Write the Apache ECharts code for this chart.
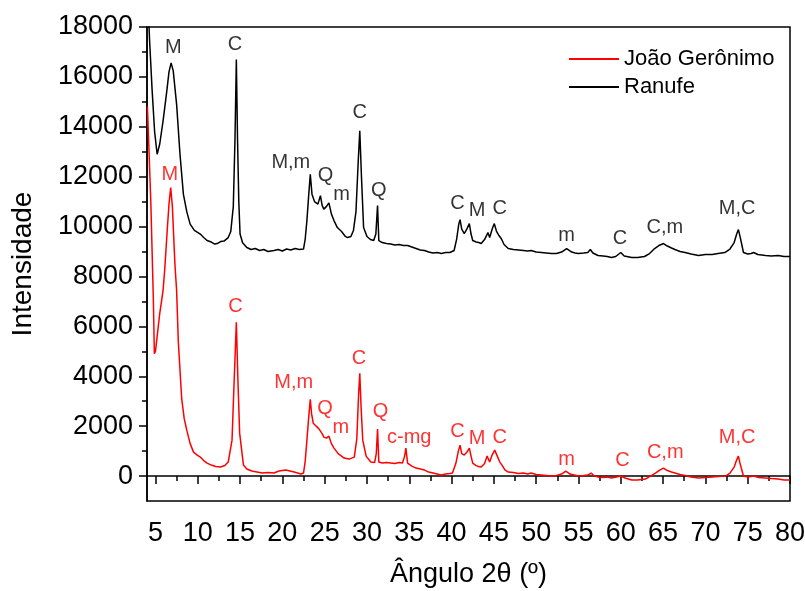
<!DOCTYPE html>
<html lang="pt">
<head>
    <meta charset="UTF-8">
    <title>DRX</title>
    <style>
        body,html{
            height: 100%;
            width: 100%;
            margin: 0;
            background: #fff;
        }
    </style>
</head>
<body>

<div id="main" style="height: 591px; width:805px;"></div>
<script src="https://cdn.jsdelivr.net/npm/echarts@6/dist/echarts.min.js"></script>
<script>
    // ângulo 2θ / intensidade
    var ranufe = [
        [4.15,18800],[4.3,17500],[4.6,15500],[4.9,13800],[5.2,12900],[5.5,13300],[5.9,14240],[6.3,15320],
        [6.6,16200],[6.85,16560],[7.1,16240],[7.5,14900],[7.9,12900],[8.3,11300],[8.7,10600],[9.1,10100],
        [9.6,9850],[10.3,9700],[10.7,9560],[11.1,9440],[11.6,9380],[12.0,9300],[12.3,9320],[12.7,9400],
        [13.1,9420],[13.6,9560],[13.9,9800],[14.2,10800],[14.4,13500],[14.56,16700],[14.7,13500],[14.85,11000],
        [15.0,9700],[15.3,9350],[15.8,9160],[16.3,9080],[16.8,9120],[17.3,9040],[17.8,9080],[18.3,9000],
        [19.0,9040],[19.5,9080],[20.0,9020],[20.5,9100],[21.0,9060],[21.5,9120],[22.0,9080],[22.5,9100],
        [22.7,9500],[22.9,10240],[23.1,11200],[23.3,12100],[23.5,11300],[23.8,11000],[24.2,10900],[24.5,11240],
        [24.7,10850],[24.9,10700],[25.2,10800],[25.5,10950],[25.8,10500],[26.1,10240],[26.5,9960],[27.0,9800],
        [27.4,9620],[27.7,9560],[28.1,9600],[28.4,9840],[28.7,10600],[28.95,12500],[29.15,13840],[29.35,12000],
        [29.6,9960],[30.0,9600],[30.4,9480],[30.8,9440],[31.05,9700],[31.25,10840],[31.4,9440],[31.8,9360],
        [32.3,9320],[32.8,9300],[33.3,9260],[33.8,9280],[34.3,9240],[34.8,9240],[35.3,9180],[35.8,9120],
        [36.3,9060],[36.8,9040],[37.3,8980],[37.8,8940],[38.3,8960],[38.8,8920],[39.3,8960],[39.8,8960],
        [40.3,9040],[40.6,9500],[40.85,10100],[41.0,10280],[41.2,9900],[41.5,9720],[41.8,9900],[42.1,10120],
        [42.3,9700],[42.5,9440],[42.9,9380],[43.2,9360],[43.5,9320],[43.9,9480],[44.3,9760],[44.5,9560],
        [44.8,9900],[45.05,10120],[45.3,9820],[45.6,9640],[45.9,9500],[46.2,9280],[46.7,9120],[47.3,9080],
        [47.9,9060],[48.5,9040],[49.0,9020],[49.4,9040],[50.0,8980],[50.6,8960],[51.2,8940],[51.8,8920],
        [52.4,8920],[53.0,8980],[53.6,9120],[54.2,8980],[54.6,8940],[55.0,8920],[55.6,8940],[56.1,8960],
        [56.4,9080],[56.7,8940],[57.3,8840],[57.9,8820],[58.4,8800],[58.9,8760],[59.4,8800],[60.0,8960],
        [60.4,8820],[61.3,8760],[62.0,8760],[62.8,8800],[63.4,8920],[64.0,9120],[64.5,9240],[65.05,9320],
        [65.5,9220],[66.0,9140],[66.4,9080],[67.0,9000],[67.6,8960],[68.3,8900],[69.2,8840],[70.0,8880],
        [70.8,8880],[71.5,8920],[72.3,8960],[72.9,9100],[73.4,9360],[73.7,9700],[73.9,9880],[74.1,9600],
        [74.5,8960],[75.0,8900],[75.4,8920],[75.7,8960],[76.2,8880],[77.1,8840],[77.8,8820],[78.6,8840],
        [79.3,8800],[80,8800]
    ];

    var joao = [
        [4.05,14800],[4.45,11000],[4.75,7100],[4.87,4900],[5.0,5000],[5.2,5600],[5.5,6500],[5.9,7440],
        [6.1,8300],[6.4,9900],[6.6,10900],[6.8,11560],[7.0,10800],[7.3,8500],[7.5,7440],[7.7,5400],
        [8.1,3100],[8.4,2300],[8.7,1840],[9.1,1300],[9.5,960],[9.9,850],[10.3,760],[10.7,620],
        [11.1,520],[11.6,440],[12.1,380],[12.7,360],[13.2,420],[13.6,560],[14.05,1440],[14.3,3800],
        [14.56,6160],[14.75,3800],[14.95,1720],[15.4,440],[15.8,280],[16.4,200],[17.0,160],[17.6,120],
        [18.3,140],[19.0,120],[19.6,200],[20.0,220],[20.4,240],[20.9,200],[21.4,160],[21.8,120],
        [22.2,80],[22.5,120],[22.7,600],[22.9,1440],[23.1,2300],[23.3,3080],[23.45,2500],[23.65,2120],
        [24.0,2000],[24.3,1900],[24.5,1960],[24.7,1700],[24.9,1560],[25.2,1520],[25.5,1600],[25.8,1300],
        [26.1,1120],[26.6,900],[27.3,720],[27.9,680],[28.5,760],[28.8,1500],[29.0,3200],[29.15,4120],
        [29.3,2800],[29.5,1440],[29.9,800],[30.45,560],[30.9,540],[31.1,900],[31.25,1880],[31.4,560],
        [31.8,520],[32.3,540],[32.8,520],[33.3,500],[33.8,540],[34.2,520],[34.45,800],[34.6,1120],
        [34.8,520],[35.3,400],[35.8,320],[36.3,280],[36.8,240],[37.3,160],[37.8,120],[38.3,80],
        [38.75,40],[39.3,80],[39.8,100],[40.1,120],[40.5,500],[40.8,1000],[41.0,1240],[41.2,900],
        [41.5,840],[41.8,950],[42.1,1120],[42.3,800],[42.5,520],[42.9,420],[43.2,380],[43.5,360],
        [43.9,500],[44.2,800],[44.5,560],[44.8,850],[45.1,1040],[45.4,800],[45.7,560],[46.0,420],
        [46.3,250],[46.7,160],[47.3,140],[47.9,100],[48.5,120],[49.0,80],[49.4,120],[50.0,60],
        [50.6,40],[51.2,20],[51.8,0],[52.4,20],[53.0,80],[53.5,200],[54.0,80],[54.5,40],
        [55.0,0],[55.6,20],[56.1,40],[56.5,120],[56.8,20],[57.3,-40],[57.9,-60],[58.4,-40],
        [58.9,-80],[59.5,-40],[60.0,0],[60.5,-80],[61.3,-160],[62.0,-160],[62.9,-120],[63.5,0],
        [64.1,120],[64.6,240],[65.05,320],[65.5,220],[66.0,160],[66.4,120],[67.0,60],[67.6,20],
        [68.3,-40],[69.2,-80],[70.0,-60],[70.8,-40],[71.5,-20],[72.4,0],[72.9,120],[73.4,360],
        [73.7,650],[73.9,800],[74.1,500],[74.5,0],[75.0,-40],[75.4,-20],[75.7,0],[76.3,-60],
        [77.1,-80],[77.8,-100],[78.6,-120],[79.3,-160],[80,-160]
    ];

    // identificação dos picos: [2θ, intensidade, fase]
    var picosRanufe = [
        [7.1,17160,'M'],[14.4,17280,'C'],[21.0,12560,'M,m'],[25.1,12040,'Q'],[27.0,11280,'m'],
        [29.15,14560,'C'],[31.4,11440,'Q'],[40.7,10920,'C'],[43.0,10640,'M'],[45.7,10720,'C'],
        [53.6,9640,'m'],[59.9,9520,'C'],[65.2,9960,'C,m'],[73.75,10720,'M,C']
    ];
    var picosJoao = [
        [6.7,12080,'M'],[14.45,6800,'C'],[21.35,3760,'M,m'],[25.05,2720,'Q'],[26.9,1960,'m'],
        [29.05,4720,'C'],[31.6,2600,'Q'],[35.0,1560,'c-mg'],[40.7,1800,'C'],[43.0,1520,'M'],
        [45.7,1560,'C'],[53.6,680,'m'],[60.2,640,'C'],[65.25,960,'C,m'],[73.75,1560,'M,C']
    ];

    var ticksX = [5,10,15,20,25,30,35,40,45,50,55,60,65,70,75,80];
    var ticksXmenor = [7.5,12.5,17.5,22.5,27.5,32.5,37.5,42.5,47.5,52.5,57.5,62.5,67.5,72.5,77.5];
    var ticksY = [0,2000,4000,6000,8000,10000,12000,14000,16000,18000];
    var ticksYmenor = [1000,3000,5000,7000,9000,11000,13000,15000,17000];

    var fonte = "'Liberation Sans', Arial, sans-serif";

    function rotulos(lista, cor) {
        return {
            type: 'scatter',
            symbolSize: 1,
            itemStyle: {color: 'rgba(0,0,0,0)'},
            silent: true,
            label: {
                show: true,
                position: 'inside',
                formatter: '{b}',
                color: cor,
                fontSize: 20,
                fontFamily: fonte
            },
            data: lista.map(function (p) {
                return {name: p[2], value: [p[0], p[1]]};
            })
        };
    }

    var myChart = echarts.init(document.getElementById('main'));
    myChart.setOption({
        animation: false,
        grid: {left: 147, right: 15, top: 27, bottom: 90, show: true, borderColor: '#000', borderWidth: 1.5, outerBoundsMode: 'none'},
        legend: {
            data: ['João Gerônimo', 'Ranufe'],
            orient: 'vertical',
            left: 564,
            top: 43,
            itemWidth: 50,
            itemHeight: 2,
            itemGap: 6,
            icon: 'rect',
            textStyle: {fontSize: 22, fontFamily: fonte, color: '#000'}
        },
        xAxis: [{
            type: 'value',
            position: 'bottom',
            min: 4,
            max: 80,
            name: 'Ângulo 2θ (º)',
            nameLocation: 'middle',
            nameGap: 60,
            nameTextStyle: {fontSize: 27, fontFamily: fonte, color: '#000'},
            axisLine: {lineStyle: {color: '#000', width: 1.5}},
            axisTick: {customValues: ticksX, length: 8, lineStyle: {width: 1.5}},
            axisLabel: {customValues: ticksX, fontSize: 27, fontFamily: fonte, color: '#000', margin: 19},
            splitLine: {show: false}
        }, {
            type: 'value',
            position: 'bottom',
            min: 4,
            max: 80,
            axisLine: {show: false},
            axisTick: {customValues: ticksXmenor, length: 5, lineStyle: {color: '#000', width: 1.5}},
            axisLabel: {show: false},
            splitLine: {show: false}
        }],
        yAxis: [{
            type: 'value',
            position: 'left',
            min: -1000,
            max: 18000,
            name: 'Intensidade',
            nameLocation: 'middle',
            nameGap: 110,
            nameTextStyle: {fontSize: 28, fontFamily: fonte, color: '#000'},
            axisLine: {show: true, lineStyle: {color: '#000', width: 1.5}},
            axisTick: {show: true, customValues: ticksY, length: 8, lineStyle: {width: 1.5}},
            axisLabel: {
                customValues: ticksY, fontSize: 27, fontFamily: fonte, color: '#000', margin: 14,
                formatter: function (v) { return String(v); }
            },
            splitLine: {show: false}
        }, {
            type: 'value',
            position: 'left',
            min: -1000,
            max: 18000,
            axisLine: {show: false},
            axisTick: {show: true, customValues: ticksYmenor, length: 5, lineStyle: {color: '#000', width: 1.5}},
            axisLabel: {show: false},
            splitLine: {show: false}
        }],
        series: [{
            name: 'João Gerônimo',
            type: 'line',
            showSymbol: false,
            color: '#ff0000',
            lineStyle: {width: 1.5},
            data: joao
        }, {
            name: 'Ranufe',
            type: 'line',
            showSymbol: false,
            color: '#000000',
            lineStyle: {width: 1.5},
            data: ranufe
        },
            rotulos(picosJoao, '#ff0000'),
            rotulos(picosRanufe, '#000000')
        ]
    });
</script>
</body>
</html>
